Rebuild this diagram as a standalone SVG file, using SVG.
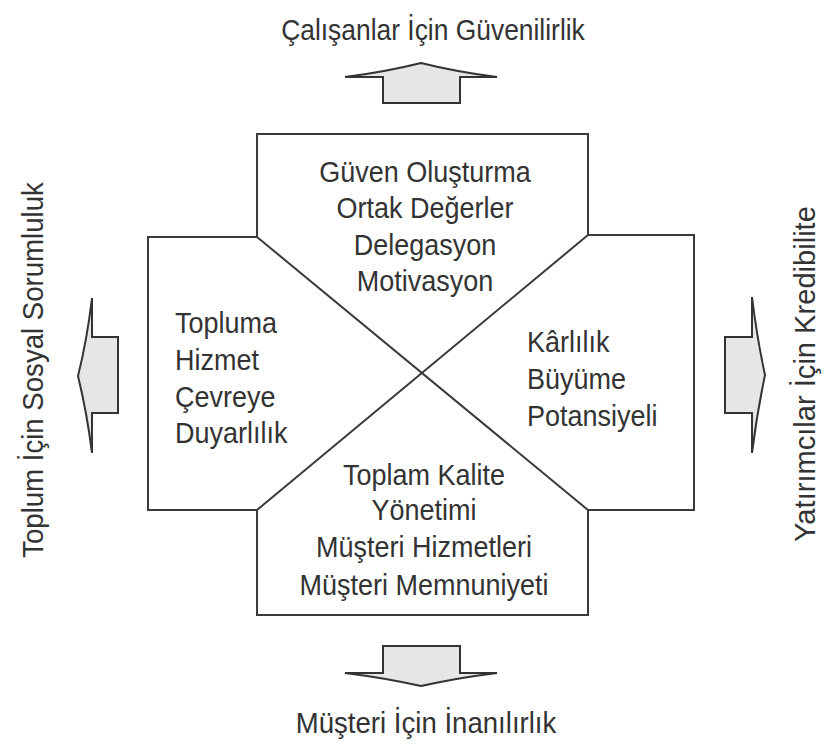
<svg xmlns="http://www.w3.org/2000/svg" width="824" height="751" viewBox="0 0 824 751">
<style>
.t{font-family:"Liberation Sans",Arial,sans-serif;font-size:30px;fill:#333}
.m{text-anchor:middle}
.ln{fill:none;stroke:#3a3a3a;stroke-width:2}
.ar{fill:#e6e6e6;stroke:#333;stroke-width:2;stroke-linejoin:miter}
</style>
<rect width="824" height="751" fill="#fff"/>
<g id="frame">
<polygon class="ln" points="257,134 588,134 588,235 694,235 694,510 588,510 588,615 257,615 257,510 148,510 148,237 257,237"/>
</g>
<g id="connectors">
<line class="ln" x1="257" y1="237" x2="588" y2="510"/>
<line class="ln" x1="588" y1="235" x2="257" y2="510"/>
</g>
<g id="node-top">
<g transform="translate(425,0) scale(0.9,1)">
<text class="t m" x="0" y="182">Güven Oluşturma</text>
<text class="t m" x="0" y="218">Ortak Değerler</text>
<text class="t m" x="0" y="255">Delegasyon</text>
<text class="t m" x="0" y="291">Motivasyon</text>
</g>
</g>
<g id="node-left">
<g transform="translate(175,0) scale(0.9,1)">
<text class="t" x="0" y="333">Topluma</text>
<text class="t" x="0" y="370">Hizmet</text>
<text class="t" x="0" y="407">Çevreye</text>
<text class="t" x="0" y="443">Duyarlılık</text>
</g>
</g>
<g id="node-right">
<g transform="translate(527,0) scale(0.9,1)">
<text class="t" x="0" y="352">Kârlılık</text>
<text class="t" x="0" y="389">Büyüme</text>
<text class="t" x="0" y="426">Potansiyeli</text>
</g>
</g>
<g id="node-bottom">
<g transform="translate(424,0) scale(0.9,1)">
<text class="t m" x="0" y="485">Toplam Kalite</text>
<text class="t m" x="0" y="520">Yönetimi</text>
<text class="t m" x="0" y="557">Müşteri Hizmetleri</text>
<text class="t m" x="0" y="595">Müşteri Memnuniyeti</text>
</g>
</g>
<g id="arrow-top">
<path class="ar" d="M383,103 L383,77 L345,77 Q385,72 421,63 Q457,72 497,77 L460,77 L460,103 Z"/>
<text class="t m" transform="translate(433,40) scale(0.88,1)" x="0" y="0">Çalışanlar İçin Güvenilirlik</text>
</g>
<g id="arrow-bottom">
<path class="ar" d="M383,646 L460,646 L460,673 L497,673 Q457,678 421,686 Q385,678 345,673 L383,673 Z"/>
<text class="t m" transform="translate(426,733) scale(0.92,1)" x="0" y="0">Müşteri İçin İnanılırlık</text>
</g>
<g id="arrow-left">
<path class="ar" d="M118,337 L92,337 L92,298 Q87,340 78,376 Q87,413 92,453 L92,413 L118,413 Z"/>
<text class="t m" transform="translate(43,370) rotate(-90) scale(0.92,1)" x="0" y="0">Toplum İçin Sosyal Sorumluluk</text>
</g>
<g id="arrow-right">
<path class="ar" d="M725,337 L752,337 L752,297 Q757,338 765,375 Q757,413 752,453 L752,413 L725,413 Z"/>
<text class="t m" transform="translate(815,374) rotate(-90) scale(0.97,1)" x="0" y="0">Yatırımcılar İçin Kredibilite</text>
</g>
</svg>
